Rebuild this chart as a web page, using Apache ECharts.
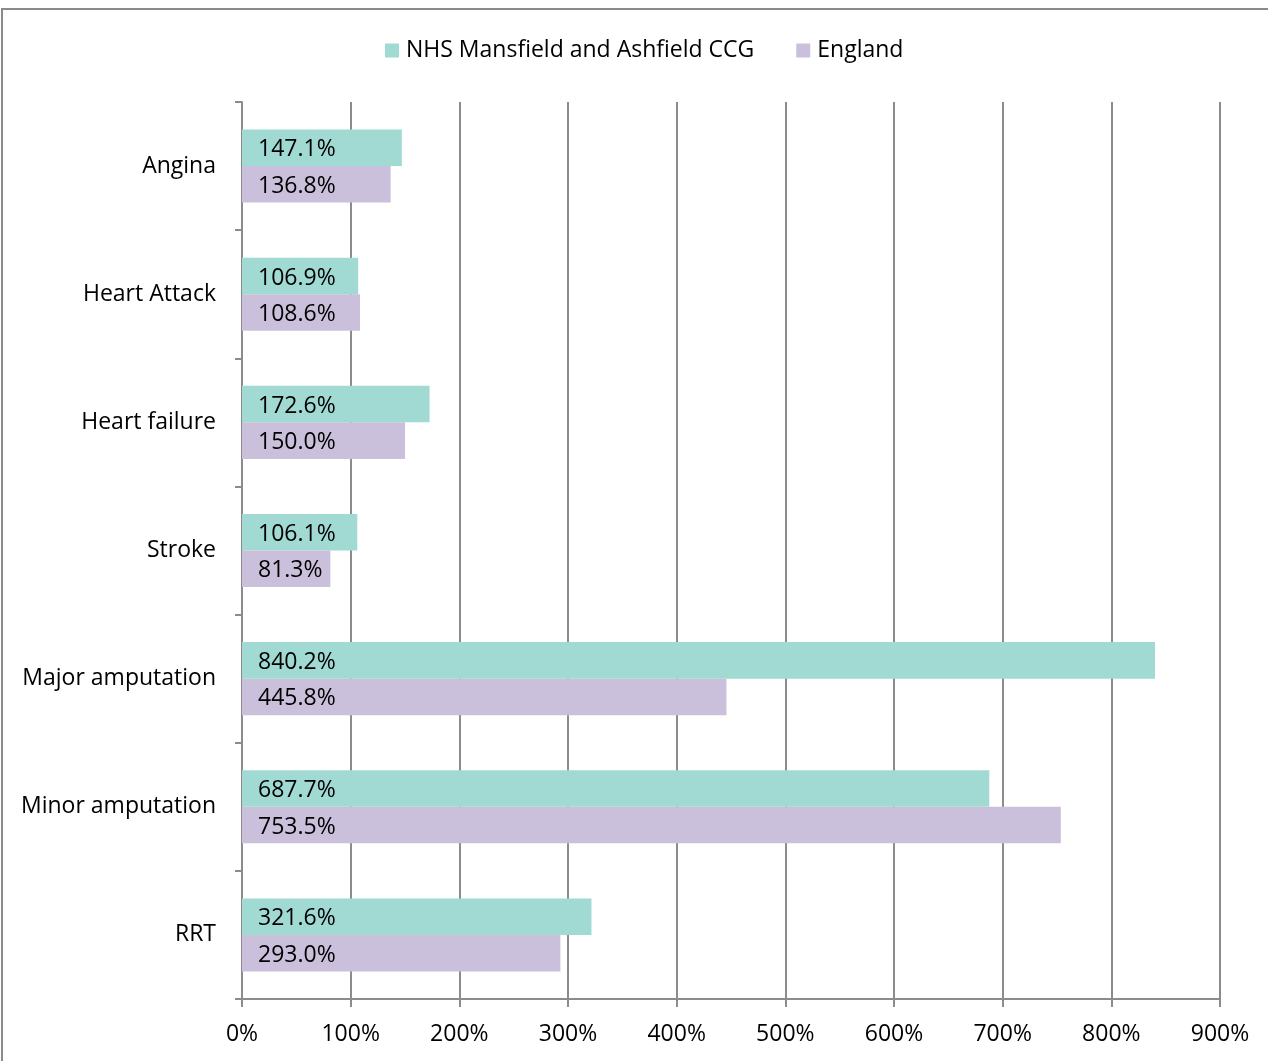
<!DOCTYPE html>
<html>
<head>
<meta charset="utf-8">
<script src="https://cdn.jsdelivr.net/npm/echarts@6/dist/echarts.min.js"></script>
<style>
  html, body { margin: 0; padding: 0; background: #fff; }
  #frame {
    position: absolute; left: 1px; top: 8px; width: 1280px; height: 1070px;
    border: 2px solid #8a8a8a; box-sizing: border-box;
  }
  #chart { position: absolute; left: 0; top: 0; width: 1268px; height: 1061px; }
</style>
</head>
<body>
<div id="frame"></div>
<div id="chart"></div>
<script>
var categories = ['Angina', 'Heart Attack', 'Heart failure', 'Stroke', 'Major amputation', 'Minor amputation', 'RRT']
var ccgValues = [147.1, 106.9, 172.6, 106.1, 840.2, 687.7, 321.6]
var englandValues = [136.8, 108.6, 150.0, 81.3, 445.8, 753.5, 293.0]
var seriesNames = ['NHS Mansfield and Ashfield CCG', 'England']

var font = 'Open Sans'
var gridColor = '#8c8c8c'

var label = {
  show: true,
  position: 'insideLeft',
  distance: 16,
  offset: [0, 2],
  color: '#000',
  fontFamily: font,
  fontSize: 23,
  formatter: function(p) { return p.value.toFixed(1) + '%' }
}

var option = {
  animation: false,
  color: ['#A0DAD3', '#CBC0DB'],
  legend: {
    top: 34,
    left: 380,
    itemWidth: 14,
    itemHeight: 14,
    itemGap: 42,
    icon: 'rect',
    textStyle: { fontFamily: font, fontSize: 23, color: '#000', padding: [0, 0, 0, 2] },
    data: seriesNames
  },
  grid: {
    left: 242,
    right: 48,
    top: 102,
    bottom: 62,
    containLabel: false
  },
  xAxis: {
    type: 'value',
    min: 0,
    max: 900,
    interval: 100,
    axisLine: { show: true, lineStyle: { color: gridColor, width: 2 } },
    axisTick: { show: true, length: 8, lineStyle: { color: gridColor, width: 2 } },
    axisLabel: {
      margin: 24,
      color: '#000',
      fontFamily: font,
      fontSize: 23,
      formatter: '{value}%'
    },
    splitLine: { show: true, lineStyle: { color: gridColor, width: 2 } }
  },
  yAxis: {
    type: 'category',
    inverse: true,
    data: categories,
    axisLine: { show: true, lineStyle: { color: gridColor, width: 2 } },
    axisTick: { show: true, length: 7, lineStyle: { color: gridColor, width: 2 } },
    axisLabel: {
      margin: 26,
      color: '#000',
      fontFamily: font,
      fontSize: 23
    }
  },
  series: [
    {
      name: seriesNames[0],
      type: 'bar',
      barGap: 0,
      barCategoryGap: '43%',
      label: label,
      data: ccgValues
    },
    {
      name: seriesNames[1],
      type: 'bar',
      barGap: 0,
      barCategoryGap: '43%',
      label: label,
      data: englandValues
    }
  ]
}

var chart = echarts.init(document.getElementById('chart'))
chart.setOption(option)
window.addEventListener('resize', function() { chart.resize() })
</script>
</body>
</html>
